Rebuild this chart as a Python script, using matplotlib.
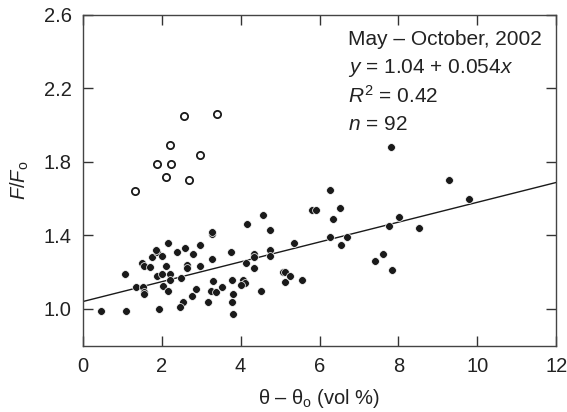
import matplotlib
matplotlib.use("Agg")
import matplotlib.pyplot as plt
import numpy as np

plt.rcParams["font.family"] = ["Liberation Sans", "DejaVu Sans"]
plt.rcParams["mathtext.fontset"] = "custom"
plt.rcParams["mathtext.rm"] = "Liberation Sans"
plt.rcParams["mathtext.it"] = "Liberation Sans:italic"

# filled points
filled_x = [0.47, 1.09, 1.08, 1.36, 1.52, 1.54, 1.55, 1.50, 1.54, 1.70,
            1.75, 1.88, 1.85, 2.00, 1.89, 2.01, 2.10, 2.15, 2.03, 2.16,
            1.94, 2.22, 2.22, 2.39, 2.49, 2.59, 2.63, 2.63, 2.80, 2.54,
            2.47, 2.77, 2.88, 2.96, 2.96, 3.28, 3.27, 3.28, 3.30, 3.26,
            3.37, 3.53, 3.18, 3.75, 3.77, 3.80, 3.77, 3.81, 4.07, 4.11,
            4.00, 4.13, 4.17, 4.35, 4.35, 4.35, 4.52, 4.57, 4.75, 4.74,
            4.75, 5.08, 5.13, 5.12, 5.26, 5.35, 5.55, 5.80, 5.90, 6.27,
            6.27, 6.35, 6.53, 6.55, 6.69, 7.41, 7.62, 7.75, 7.85, 8.01,
            7.81, 8.51, 9.28, 9.80]
filled_y = [0.99, 0.99, 1.19, 1.12, 1.12, 1.09, 1.08, 1.25, 1.235, 1.23,
            1.28, 1.31, 1.32, 1.29, 1.18, 1.19, 1.235, 1.36, 1.125, 1.10,
            1.00, 1.19, 1.16, 1.31, 1.17, 1.33, 1.24, 1.22, 1.30, 1.04,
            1.01, 1.07, 1.11, 1.35, 1.235, 1.41, 1.42, 1.27, 1.15, 1.10,
            1.09, 1.12, 1.04, 1.31, 1.16, 1.08, 1.04, 0.97, 1.16, 1.14,
            1.13, 1.25, 1.46, 1.30, 1.28, 1.22, 1.10, 1.51, 1.43, 1.32,
            1.29, 1.20, 1.20, 1.145, 1.18, 1.36, 1.16, 1.54, 1.54, 1.645,
            1.39, 1.49, 1.55, 1.35, 1.39, 1.26, 1.30, 1.45, 1.21, 1.50,
            1.88, 1.44, 1.70, 1.60]

# open circles (excluded outliers)
open_x = [1.33, 1.87, 2.12, 2.23, 2.20, 2.70, 2.98, 2.57, 3.39]
open_y = [1.64, 1.79, 1.72, 1.79, 1.89, 1.70, 1.84, 2.05, 2.06]

# regression y = 1.04 + 0.054x
intercept = 1.04
slope = 0.054

fig = plt.figure(figsize=(5.67, 4.12), dpi=100)
ax = fig.add_axes([0.146, 0.161, 0.835, 0.803])

line_x = np.array([0, 12])
ax.plot(line_x, intercept + slope * line_x, color="#1a1a1a", linewidth=1.0, zorder=2)

ax.plot(filled_x, filled_y, linestyle="none", marker="o", markersize=5.6,
        markerfacecolor="#1a1a1a", markeredgecolor="white", markeredgewidth=0.5, zorder=3)
ax.plot(open_x, open_y, linestyle="none", marker="o", markersize=5.2,
        markerfacecolor="white", markeredgecolor="#1a1a1a", markeredgewidth=1.3, zorder=3)

ax.set_xlim(0, 12)
ax.set_ylim(0.8, 2.6)
ax.set_xticks([0, 2, 4, 6, 8, 10, 12])
ax.set_yticks([1.0, 1.4, 1.8, 2.2, 2.6])
ax.set_yticklabels(["1.0", "1.4", "1.8", "2.2", "2.6"])
ax.tick_params(direction="in", length=7, width=1, colors="#333333",
               labelcolor="#222222", labelsize=14.5, top=True, right=True)
ax.tick_params(axis="x", pad=8)
ax.tick_params(axis="y", pad=8)
for s in ax.spines.values():
    s.set_color("#444444")
    s.set_linewidth(1.0)

ax.set_xlabel("θ – θ$_\\mathrm{o}$ (vol %)", fontsize=14.5, color="#222222", labelpad=8)
ax.set_ylabel("$F$/$F_\\mathrm{o}$", fontsize=14.5, color="#222222", labelpad=9)

info = ["May – October, 2002",
        "$y$ = 1.04 + 0.054$x$",
        "$R^2$ = 0.42",
        "$n$ = 92"]
for i, t in enumerate(info):
    ax.text(6.72, 2.465 - i * 0.153, t, fontsize=15, color="#222222", va="center")

fig.savefig("out.png", dpi=100)
